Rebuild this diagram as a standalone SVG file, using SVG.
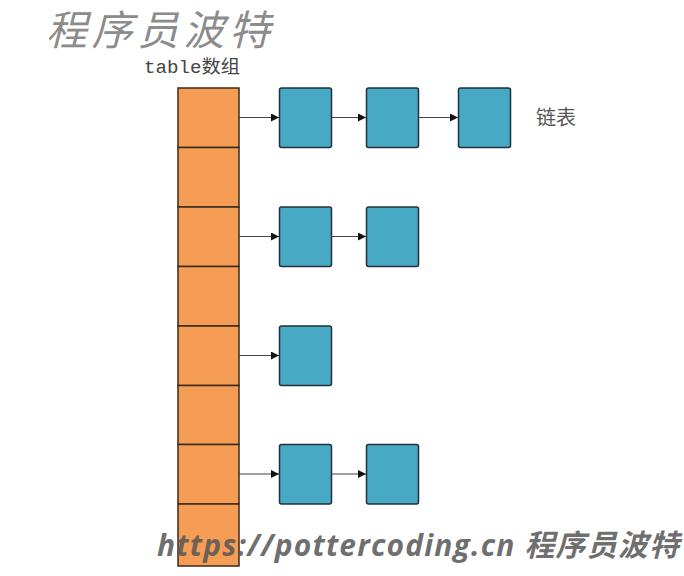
<svg xmlns="http://www.w3.org/2000/svg" width="684" height="576" viewBox="0 0 684 576">
<defs>
<style>
.cell{fill:#F59D55;stroke:#3a2a1a;stroke-width:1.5}
.node{fill:#48A9C5;stroke:#22313a;stroke-width:1.5}
.conn{stroke:#444;stroke-width:1.2;fill:none;marker-end:url(#ah)}
.wm{font-family:"Noto Sans CJK SC","Noto Sans",sans-serif;font-style:italic;fill:#8c8c8c}
.lbl{font-family:"Liberation Mono","Noto Sans CJK SC",monospace;font-size:18px;fill:#444}
.cn{font-family:"Noto Sans CJK SC",sans-serif;font-size:20px;fill:#555}
.url{font-family:"Open Sans","Noto Sans CJK SC",sans-serif;font-style:italic;font-weight:bold;font-size:30px;fill:#555;fill-opacity:0.85}
</style>
<marker id="ah" markerWidth="8" markerHeight="8" refX="8" refY="4" orient="auto" markerUnits="userSpaceOnUse">
<path d="M0,0 L8,4 L0,8 z" fill="#111"/>
</marker>
</defs>
<rect width="684" height="576" fill="#ffffff"/>
<text class="wm" x="46" y="45" font-size="41" textLength="224" lengthAdjust="spacing">程序员波特</text>
<text class="lbl" x="144" y="73" textLength="96" lengthAdjust="spacingAndGlyphs">table<tspan font-family="Noto Sans CJK SC,sans-serif">数组</tspan></text>
<g id="table">
<rect class="cell" x="178" y="88" width="61" height="59.5"/>
<rect class="cell" x="178" y="147.5" width="61" height="59.5"/>
<rect class="cell" x="178" y="207" width="61" height="59.5"/>
<rect class="cell" x="178" y="266.5" width="61" height="59.5"/>
<rect class="cell" x="178" y="326" width="61" height="59.5"/>
<rect class="cell" x="178" y="385.5" width="61" height="59"/>
<rect class="cell" x="178" y="444.5" width="61" height="59.5"/>
<rect class="cell" x="178" y="504" width="61" height="62"/>
</g>
<g id="n1a"><rect class="node" x="279.5" y="88" width="52" height="59.5" rx="2"/></g>
<g id="n1b"><rect class="node" x="366.5" y="88" width="52" height="59.5" rx="2"/></g>
<g id="n1c"><rect class="node" x="458.5" y="88" width="52" height="59.5" rx="2"/></g>
<g id="n2a"><rect class="node" x="279.5" y="207" width="52" height="59.5" rx="2"/></g>
<g id="n2b"><rect class="node" x="366.5" y="207" width="52" height="59.5" rx="2"/></g>
<g id="n3a"><rect class="node" x="279.5" y="326" width="52" height="59.5" rx="2"/></g>
<g id="n4a"><rect class="node" x="279.5" y="444.5" width="52" height="59.5" rx="2"/></g>
<g id="n4b"><rect class="node" x="366.5" y="444.5" width="52" height="59.5" rx="2"/></g>
<g id="connectors">
<line class="conn" x1="239" y1="117.5" x2="279" y2="117.5"/>
<line class="conn" x1="331.5" y1="117.5" x2="366" y2="117.5"/>
<line class="conn" x1="418.5" y1="117.5" x2="458" y2="117.5"/>
<line class="conn" x1="239" y1="236.5" x2="279" y2="236.5"/>
<line class="conn" x1="331.5" y1="236.5" x2="366" y2="236.5"/>
<line class="conn" x1="239" y1="355.5" x2="279" y2="355.5"/>
<line class="conn" x1="239" y1="474" x2="279" y2="474"/>
<line class="conn" x1="331.5" y1="474" x2="366" y2="474"/>
</g>
<text class="cn" x="536" y="125">链表</text>
<text class="url" x="157" y="556" textLength="522" lengthAdjust="spacing">https://pottercoding.cn 程序员波特</text>
</svg>
